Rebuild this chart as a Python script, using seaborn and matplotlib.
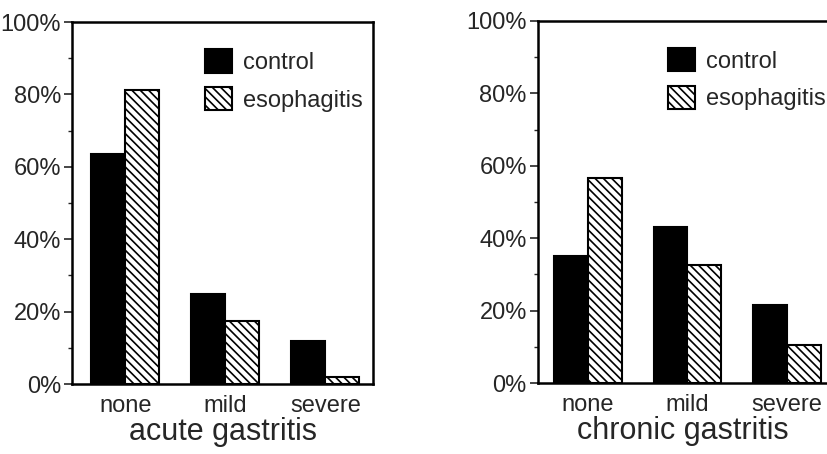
import matplotlib
matplotlib.use("Agg")
import matplotlib.pyplot as plt
from matplotlib.patches import Patch
from matplotlib.ticker import MultipleLocator, PercentFormatter
import seaborn as sns
import pandas as pd

sns.set_theme(style="white")
plt.rcParams["font.family"] = ["Liberation Sans", "DejaVu Sans"]
plt.rcParams["hatch.linewidth"] = 1.2

severity = ["none", "mild", "severe"]
groups = ["control", "esophagitis"]

acute_control = [63.5, 25.0, 11.8]
acute_esophagitis = [81.2, 17.4, 1.9]
chronic_control = [35.1, 43.1, 21.6]
chronic_esophagitis = [56.7, 32.6, 10.5]


def long_table(control, esophagitis):
    rows = []
    for sev, c, e in zip(severity, control, esophagitis):
        rows.append({"severity": sev, "group": "control", "pct": c})
        rows.append({"severity": sev, "group": "esophagitis", "pct": e})
    return pd.DataFrame(rows)


fig = plt.figure(figsize=(8.27, 4.54), dpi=100)
ax1 = fig.add_axes([0.0871, 0.154, 0.364, 0.7975])
ax2 = fig.add_axes([0.6505, 0.156, 0.3495, 0.798])

panels = [
    (ax1, acute_control, acute_esophagitis, "acute gastritis", (-0.533, 2.477), 0.442),
    (ax2, chronic_control, chronic_esophagitis, "chronic gastritis", (-0.50, 2.40), 0.45),
]

for ax, ctrl, eso, title, xlim, leg_x in panels:
    df = long_table(ctrl, eso)
    sns.barplot(data=df, x="severity", y="pct", hue="group", order=severity,
                hue_order=groups, width=0.68, legend=False, ax=ax)

    # black bars for control, hatched white bars for esophagitis
    for cont, face, hatch in zip(ax.containers, ["black", "white"], [None, "\\\\\\\\"]):
        for bar in cont:
            bar.set_facecolor(face)
            bar.set_edgecolor("black")
            bar.set_linewidth(1.5)
            if hatch:
                bar.set_hatch(hatch)

    ax.set_xlim(*xlim)
    ax.set_ylim(0, 100)
    ax.yaxis.set_major_locator(MultipleLocator(20))
    ax.yaxis.set_minor_locator(MultipleLocator(10))
    ax.yaxis.set_major_formatter(PercentFormatter(decimals=0))
    ax.tick_params(axis="y", which="major", left=True, length=6, width=1.2,
                   labelsize=17, pad=2, direction="out")
    ax.tick_params(axis="y", which="minor", left=True, length=3, width=1.0, direction="out")
    ax.tick_params(axis="x", length=0, labelsize=17, pad=8)
    ax.set_ylabel("")
    ax.set_xlabel(title, fontsize=22, labelpad=0)

    for side in ["left", "bottom", "top", "right"]:
        ax.spines[side].set_visible(True)
        ax.spines[side].set_color("black")
        ax.spines[side].set_linewidth(1.8)

    handles = [
        Patch(facecolor="black", edgecolor="black", linewidth=1.5, label="control"),
        Patch(facecolor="white", edgecolor="black", linewidth=1.5,
              hatch="\\\\\\\\", label="esophagitis"),
    ]
    ax.legend(handles=handles, loc="upper left", bbox_to_anchor=(leg_x, 0.925),
              frameon=False, fontsize=17, handlelength=1.15, handleheight=1.15,
              handletextpad=0.45, labelspacing=0.55, borderpad=0, borderaxespad=0)

ax2.spines["right"].set_visible(False)

fig.savefig("out.png", dpi=100)
